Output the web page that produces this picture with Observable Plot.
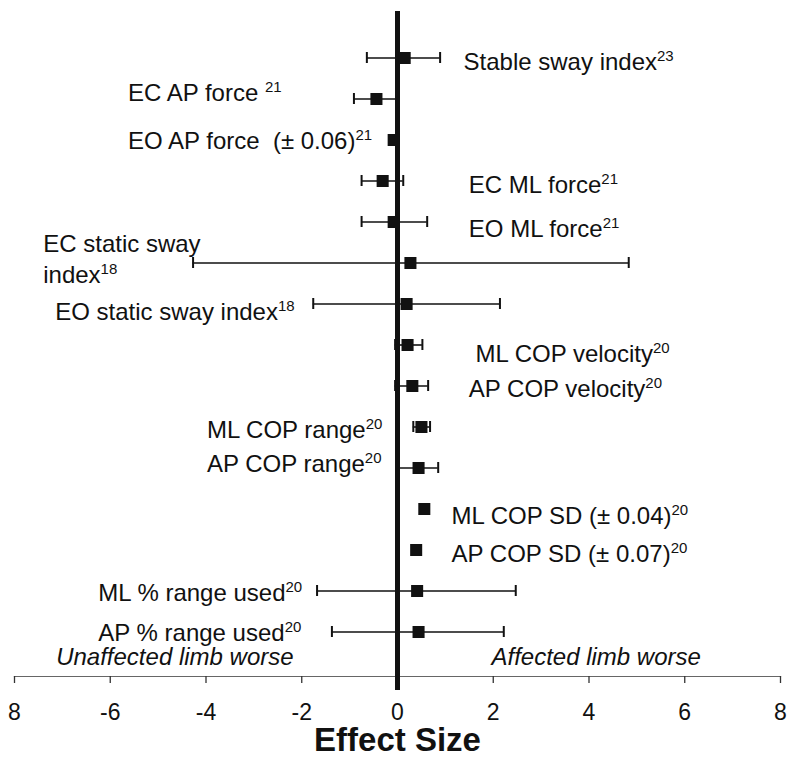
<!DOCTYPE html>
<html>
<head>
<meta charset="utf-8">
<script src="https://cdn.jsdelivr.net/npm/d3@7"></script>
<script src="https://cdn.jsdelivr.net/npm/@observablehq/plot@0.6"></script>
<style>
  html, body { margin: 0; padding: 0; background: #fff; }
  #chart svg { display: block; }
</style>
</head>
<body>
<div id="chart"></div>
<script>
// ---- data ----
const outcomes = [
  "Stable sway index^23",
  "EC AP force ^21",
  "EO AP force\u00a0 (\u00b1 0.06)^21",
  "EC ML force^21",
  "EO ML force^21",
  "EC static sway\nindex^18",
  "EO static sway index^18",
  "ML COP velocity^20",
  "AP COP velocity^20",
  "ML COP range^20",
  "AP COP range^20",
  "ML COP SD (\u00b1 0.04)^20",
  "AP COP SD (\u00b1 0.07)^20",
  "ML % range used^20",
  "AP % range used^20"
];
const effectSize = [0.15, -0.44, -0.08, -0.31, -0.08, 0.27, 0.19, 0.21, 0.31, 0.50, 0.44, 0.56, 0.39, 0.41, 0.44];
const ciLow  = [-0.64, -0.91, null, -0.75, -0.75, -4.27, -1.76, -0.05, -0.05, 0.33, -0.02, null, null, -1.68, -1.37];
const ciHigh = [ 0.89, -0.02, null,  0.12,  0.62,  4.83,  2.14,  0.52,  0.64, 0.68,  0.85, null, null,  2.47,  2.22];

// label anchors (in effect-size units) and small vertical nudges
const labelX  = [1.38, -5.63, -5.63, 1.49, 1.49, -7.40, -7.15, 1.63, 1.49, -3.98, -3.98, 1.13, 1.13, -6.25, -6.25];
const labelDy = [2, -8, -1, 2, 5, -5, 6, 7, 1, 1, -6, 5, 2, 0, -1];

const xTicks = [-8, -6, -4, -2, 0, 2, 4, 6, 8];
const xTickLabels = ["8", "-6", "-4", "-2", "0", "2", "4", "6", "8"];
const sideLabels = ["Unaffected limb worse", "Affected limb worse"];
const sideX = [-4.65, 4.15];
const axisTitle = "Effect Size";

// ---- table ----
const rows = outcomes.map((label, i) => ({
  i, label, es: effectSize[i], lo: ciLow[i], hi: ciHigh[i], lx: labelX[i], ldy: labelDy[i]
}));
const withCI = rows.filter(d => d.lo != null && d.hi != null);
const caps = withCI.flatMap(d => [{i: d.i, x: d.lo}, {i: d.i, x: d.hi}]);

const font = "Liberation Sans, Arial, Helvetica, sans-serif";

const chart = Plot.plot({
  width: 787,
  height: 757,
  marginTop: 11,
  marginLeft: 14,
  marginRight: 7,
  marginBottom: 81,
  style: {fontFamily: font, background: "#fff", color: "#111"},
  x: {domain: [-8, 8]},
  y: {type: "band", domain: d3.range(outcomes.length), range: [35.35, 654.65], padding: 0, axis: null},
  marks: [
    Plot.frame({anchor: "bottom", stroke: "#666", strokeWidth: 1.2}),
    Plot.axisX({
      ticks: xTicks,
      tickFormat: d => xTickLabels[xTicks.indexOf(d)],
      tickSize: 7,
      tickPadding: 20,
      fontSize: 23,
      stroke: "#333",
      strokeWidth: 1.3,
      label: null
    }),
    Plot.ruleY(withCI, {y: "i", x1: "lo", x2: "hi", stroke: "#111", strokeWidth: 1.6}),
    Plot.tickX(caps, {x: "x", y: "i", stroke: "#111", strokeWidth: 2, insetTop: 15, insetBottom: 15}),
    Plot.ruleX([0], {stroke: "#111", strokeWidth: 5, insetBottom: -14}),
    Plot.dot(rows, {x: "es", y: "i", symbol: "square", r: 6.8, fill: "#111", stroke: "none"}),
    ...rows.map(d => Plot.text([d], {
      x: "lx", y: "i", text: "label", dy: d.ldy,
      textAnchor: "start", fontSize: 24, lineHeight: 1.28, fill: "#111"
    })),
    Plot.text(sideLabels, {
      x: (d, i) => sideX[i], text: d => d, frameAnchor: "bottom", dy: -12,
      fontSize: 24, fontStyle: "italic", fill: "#111"
    }),
    Plot.text([axisTitle], {
      text: d => d, frameAnchor: "bottom", dy: 74,
      fontSize: 33, fontWeight: "bold", fill: "#111"
    })
  ]
});

// superscript reference numbers ("^")
d3.select(chart).selectAll("text, tspan").each(function() {
  if (this.childElementCount > 0) return;
  const t = this.textContent;
  const k = t.indexOf("^");
  if (k < 0) return;
  this.textContent = t.slice(0, k);
  d3.select(this).append("tspan").attr("dy", -9).attr("font-size", 15).text(t.slice(k + 1));
});

document.getElementById("chart").appendChild(chart);
</script>
</body>
</html>
